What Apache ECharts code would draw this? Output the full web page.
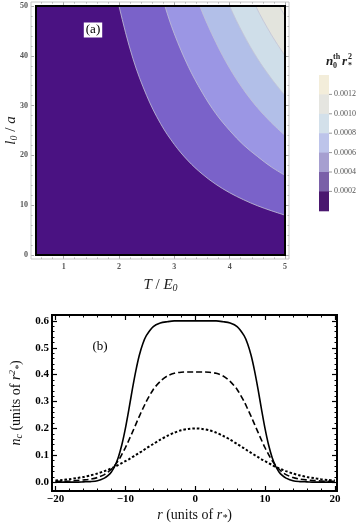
<!DOCTYPE html>
<html><head><meta charset="utf-8">
<script src="https://cdn.jsdelivr.net/npm/echarts@6/dist/echarts.min.js"></script>
<style>html,body{margin:0;padding:0;background:#fff}#c{width:357px;height:529px}</style>
</head><body><div id="c"></div>
<script>
// ---------- Panel (a): contour boundaries [T/E0, l0/a] ----------
const levelLabels = ['0.0012','0.0010','0.0008','0.0006','0.0004','0.0002'];
const c0002 = [[0.5,60],[1.85,58.4],[2,50],[2.25,39.5],[2.5,32],[2.75,26.4],[3,22.2],[3.25,18.9],[3.5,16.3],[3.75,14.2],[4,12.5],[4.25,11.1],[4.5,9.9],[4.75,8.9],[5,8]];
const c0004 = [[0.5,60],[2.6,59.2],[2.83,50],[3,44.4],[3.25,37.9],[3.5,32.7],[3.75,28.4],[4,25],[4.25,22.1],[4.5,19.8],[4.75,17.7],[5,16]];
const c0006 = [[0.5,60],[3.2,58.6],[3.46,50],[3.75,42.7],[4,37.5],[4.25,33.2],[4.5,29.6],[4.75,26.6],[5,24]];
const c0008 = [[0.5,60],[3.7,58.4],[4,50],[4.25,44.3],[4.5,39.5],[4.75,35.5],[5,32]];
const c0010 = [[0.5,60],[4.15,58.1],[4.47,50],[4.75,44.3],[5,40]];
const c0012 = [[0.5,60],[4.55,58],[4.9,50],[5,48]];
const topXTicks = [1,2,3,4,5];
const topYTicks = [0,10,20,30,40,50];

// ---------- Panel (b): profiles n_c(r) ----------
const r = [-20,-19,-18,-17,-16,-15,-14,-13,-12.5,-12,-11.5,-11,-10.5,-10,-9.5,-9,-8.5,-8,-7.5,-7,-6,-5,-4,-3,-2,-1,0,1,2,3,4,5,6,7,7.5,8,8.5,9,9.5,10,10.5,11,11.5,12,12.5,13,14,15,16,17,18,19,20];
const solid = [0,0,0,0,0.001,0.002,0.005,0.015,0.024,0.038,0.060,0.093,0.139,0.199,0.270,0.345,0.414,0.472,0.515,0.545,0.579,0.592,0.597,0.6,0.6,0.6,0.6,0.6,0.6,0.6,0.597,0.592,0.579,0.545,0.515,0.472,0.414,0.345,0.270,0.199,0.139,0.093,0.060,0.038,0.024,0.015,0.005,0.002,0.001,0,0,0,0];
const dashed = [0.003,0.003,0.004,0.006,0.008,0.011,0.017,0.028,0.037,0.048,0.063,0.08,0.103,0.128,0.156,0.185,0.215,0.245,0.273,0.30,0.345,0.375,0.395,0.405,0.409,0.41,0.41,0.41,0.409,0.405,0.395,0.375,0.345,0.30,0.273,0.245,0.215,0.185,0.156,0.128,0.103,0.08,0.063,0.048,0.037,0.028,0.017,0.011,0.008,0.006,0.004,0.003,0.003];
const dotted = [0.006,0.008,0.011,0.015,0.019,0.025,0.032,0.041,0.046,0.051,0.057,0.064,0.071,0.078,0.085,0.093,0.101,0.109,0.117,0.126,0.142,0.158,0.172,0.184,0.193,0.198,0.2,0.198,0.193,0.184,0.172,0.158,0.142,0.126,0.117,0.109,0.101,0.093,0.085,0.078,0.071,0.064,0.057,0.051,0.046,0.041,0.032,0.025,0.019,0.015,0.011,0.008,0.006];
const botXTicks = [-20,-10,0,10,20];
const botYTicks = [0,0.1,0.2,0.3,0.4,0.5,0.6];

// ---------- styles ----------
const contours = [c0012,c0010,c0008,c0006,c0004,c0002];
const bandColors = ['#e3e4dd','#cfdee9','#b2bfe8','#9b96e4','#7a62c9','#4a1282'];
const topColor = '#eeeadb';
const legendColors = ['#f3edda','#e5e5e0','#d3e0ea','#bdc4ea','#a69fd0','#7a60a8','#4a176f'];
const SERIF = '"Liberation Serif", "DejaVu Serif", serif';

function range(a,b,s,skip){const o=[];for(let v=a;v<=b+1e-9;v+=s){const w=Math.round(v*1000)/1000;if(!skip||skip.indexOf(w)<0)o.push(w);}return o;}
const topXMinor = range(0.6,5,0.2,topXTicks);
const topYMinor = range(0,50,2,topYTicks);
const botXMinor = range(-20,20,2,botXTicks);
const botYMinor = range(0,0.6,0.02,botYTicks);

function axis(o){
  return Object.assign({
    type:'value', splitLine:{show:false}, axisLine:{show:false,onZero:false},
    axisLabel:{show:false}, axisTick:{show:false}, nameMoveOverlap:false
  }, o);
}
function ticks(vals,len,color,w){return {show:true,inside:true,length:len,customValues:vals,lineStyle:{color:color,width:w||1}};}

const richTop = {
  i:{fontFamily:SERIF,fontStyle:'italic',fontSize:15,color:'#222'},
  n:{fontFamily:SERIF,fontSize:15,color:'#222'},
  s:{fontFamily:SERIF,fontStyle:'italic',fontSize:10,color:'#222',verticalAlign:'bottom',padding:[6,0,0,0]}
};
const richBot = {
  i:{fontFamily:SERIF,fontStyle:'italic',fontSize:14,color:'#111'},
  n:{fontFamily:SERIF,fontSize:14,color:'#111'},
  s:{fontFamily:SERIF,fontStyle:'italic',fontSize:10,color:'#111',verticalAlign:'bottom',padding:[6,0,0,0]},
  p:{fontFamily:SERIF,fontStyle:'italic',fontSize:9,color:'#111',verticalAlign:'top',padding:[0,0,6,0]}
};

const xAxes = [
  axis({gridIndex:0,min:0.5,max:5,position:'bottom',offset:4,
    axisTick:ticks(topXTicks,3,'#aaa'),
    axisLabel:{show:true,customValues:topXTicks,fontSize:8,fontWeight:'bold',color:'#555',fontFamily:SERIF,margin:4},
    name:'{i|T}{n| / }{i|E}{s|0}',nameLocation:'middle',nameGap:18,nameTextStyle:{rich:richTop}}),
  axis({gridIndex:0,min:0.5,max:5,position:'bottom',offset:4,axisTick:ticks(topXMinor,1.5,'#aaa')}),
  axis({gridIndex:0,min:0.5,max:5,position:'top',offset:4,axisTick:ticks(topXTicks,3,'#aaa')}),
  axis({gridIndex:0,min:0.5,max:5,position:'top',offset:4,axisTick:ticks(topXMinor,1.5,'#aaa')}),
  axis({gridIndex:1,min:-20.5,max:20.3,position:'bottom',
    axisTick:ticks(botXTicks,5,'#000',1.2),
    axisLabel:{show:true,customValues:botXTicks,fontSize:11,fontWeight:'bold',color:'#000',fontFamily:SERIF,margin:3,
      formatter:v=>(v<0?'\u2212':'')+Math.abs(v)},
    name:'{i|r}{n| (units of }{i|r}{s|*}{n|)}',nameLocation:'middle',nameGap:16,nameTextStyle:{rich:richBot}}),
  axis({gridIndex:1,min:-20.5,max:20.3,position:'bottom',axisTick:ticks(botXMinor,2.5,'#000')}),
  axis({gridIndex:1,min:-20.5,max:20.3,position:'top',axisTick:ticks(botXTicks,5,'#000',1.2)}),
  axis({gridIndex:1,min:-20.5,max:20.3,position:'top',axisTick:ticks(botXMinor,2.5,'#000')})
];
const yAxes = [
  axis({gridIndex:0,min:0,max:50,position:'left',offset:5,
    axisTick:ticks(topYTicks,3,'#aaa'),
    axisLabel:{show:true,customValues:topYTicks,fontSize:8,fontWeight:'bold',color:'#555',fontFamily:SERIF,margin:3},
    name:'{i|l}{s|0}{n| / }{i|a}',nameLocation:'middle',nameGap:12,nameTextStyle:{rich:richTop}}),
  axis({gridIndex:0,min:0,max:50,position:'left',offset:5,axisTick:ticks(topYMinor,1.5,'#aaa')}),
  axis({gridIndex:0,min:0,max:50,position:'right',offset:4,axisTick:ticks(topYTicks,3,'#aaa')}),
  axis({gridIndex:0,min:0,max:50,position:'right',offset:4,axisTick:ticks(topYMinor,1.5,'#aaa')}),
  axis({gridIndex:1,min:-0.033,max:0.622,position:'left',
    axisTick:ticks(botYTicks,5,'#000',1.2),
    axisLabel:{show:true,customValues:botYTicks,fontSize:11,fontWeight:'bold',color:'#000',fontFamily:SERIF,margin:3,
      formatter:v=>v.toFixed(1)},
    name:'{i|n}{s|c}{n| (units of }{i|r}{p|2}{s|*}{n|)}',nameLocation:'middle',nameGap:28,nameTextStyle:{rich:richBot}}),
  axis({gridIndex:1,min:-0.033,max:0.622,position:'left',axisTick:ticks(botYMinor,2.5,'#000')}),
  axis({gridIndex:1,min:-0.033,max:0.622,position:'right',axisTick:ticks(botYTicks,5,'#000',1.2)}),
  axis({gridIndex:1,min:-0.033,max:0.622,position:'right',axisTick:ticks(botYMinor,2.5,'#000')})
];

const series = [];
contours.forEach((c,k)=>{
  series.push({type:'line',xAxisIndex:0,yAxisIndex:0,data:c,symbol:'none',smooth:0.35,clip:true,
    lineStyle:{color:'#c3c3d6',width:0.8},areaStyle:{color:bandColors[k],opacity:1},
    emphasis:{disabled:true},silent:true,z:2+k});
});
const pairs = arr => r.map((x,i)=>[x,arr[i]]);
series.push({type:'line',xAxisIndex:4,yAxisIndex:4,data:pairs(dotted),symbol:'none',smooth:0.3,
  lineStyle:{color:'#000',width:2,type:[2.5,2]},silent:true});
series.push({type:'line',xAxisIndex:4,yAxisIndex:4,data:pairs(dashed),symbol:'none',smooth:0.3,
  lineStyle:{color:'#000',width:1.6,type:[6,3]},silent:true});
series.push({type:'line',xAxisIndex:4,yAxisIndex:4,data:pairs(solid),symbol:'none',smooth:0.3,
  lineStyle:{color:'#000',width:1.6},silent:true});

// legend graphic (colour key)
const graphic = [
  {type:'rect',shape:{x:31,y:2,width:258,height:257},style:{fill:'none',stroke:'#c8c8c8',lineWidth:1},z:100},
  {type:'rect',shape:{x:36,y:6,width:249,height:249},style:{fill:'none',stroke:'#000',lineWidth:2},z:101},
  {type:'rect',shape:{x:52,y:315,width:285,height:176},style:{fill:'none',stroke:'#000',lineWidth:2},z:101},
  {type:'text',x:93,y:30,style:{text:'(a)',font:'13px '+SERIF,fill:'#000',align:'center',verticalAlign:'middle',backgroundColor:'#fff',padding:[1,2]},z:102},
  {type:'text',x:100,y:347,style:{text:'(b)',font:'13px '+SERIF,fill:'#000',align:'center',verticalAlign:'middle'},z:102},
  {type:'text',x:326,y:62,style:{text:'n',font:'italic bold 13px '+SERIF,fill:'#222',verticalAlign:'middle'},z:102},
  {type:'text',x:333,y:57,style:{text:'th',font:'bold 8px '+SERIF,fill:'#222',verticalAlign:'middle'},z:102},
  {type:'text',x:333,y:66,style:{text:'0',font:'bold 8px '+SERIF,fill:'#222',verticalAlign:'middle'},z:102},
  {type:'text',x:342,y:62,style:{text:'r',font:'italic bold 13px '+SERIF,fill:'#222',verticalAlign:'middle'},z:102},
  {type:'text',x:348,y:57,style:{text:'2',font:'bold 8px '+SERIF,fill:'#222',verticalAlign:'middle'},z:102},
  {type:'text',x:348,y:66,style:{text:'*',font:'bold 8px '+SERIF,fill:'#222',verticalAlign:'middle'},z:102}
];
const swTop = 75, swH = 19.4;
legendColors.forEach((c,k)=>{
  graphic.push({type:'rect',shape:{x:319,y:swTop+k*swH,width:10,height:swH+0.5},style:{fill:c},z:100});
});
levelLabels.forEach((t,k)=>{
  const y = swTop+(k+1)*swH;
  graphic.push({type:'line',shape:{x1:329,y1:y,x2:332,y2:y},style:{stroke:'#999',lineWidth:1},z:101});
  graphic.push({type:'text',x:334,y:y,style:{text:t,font:'8px '+SERIF,fill:'#555',verticalAlign:'middle'},z:101});
});

const chart = echarts.init(document.getElementById('c'),null,{renderer:'canvas'});
chart.setOption({
  animation:false,
  backgroundColor:'#fff',
  grid:[
    {left:36,right:72,top:6,bottom:274,show:true,backgroundColor:topColor,borderWidth:0,containLabel:false,outerBoundsMode:'none'},
    {left:52,right:20,top:315,bottom:38,containLabel:false,outerBoundsMode:'none'}
  ],
  xAxis:xAxes, yAxis:yAxes, series:series, graphic:graphic
});
</script></body></html>
